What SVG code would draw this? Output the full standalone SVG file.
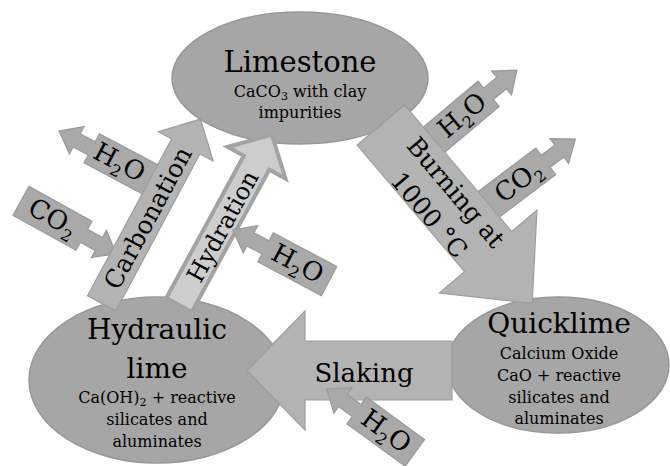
<svg xmlns="http://www.w3.org/2000/svg" width="670" height="466" viewBox="0 0 670 466">
<defs>
<style>
.node{fill:#a6a6a6;stroke:#979797;stroke-width:1.5}
.big{fill:#b3b3b3;stroke:#9d9d9d;stroke-width:1.2}
.hyd{fill:#cdcdcd;stroke:#a3a3a3;stroke-width:4;stroke-linejoin:miter}
.small{fill:#a9a9a9;stroke:#999999;stroke-width:1.2}
text{font-family:"DejaVu Serif","Liberation Serif",serif;fill:#000;text-anchor:middle}
.title{font-size:28px}
.sub{font-size:16px}
.lbl{font-size:25px}
.mol{font-size:26px}
.idx{font-size:16px}
</style>
<path id="smallL" d="M36,-16.5 L36,16.5 L-36,16.5 L-36,7.5 L-53,7.5 L-53,15.5 L-73,0 L-53,-15.5 L-53,-7.5 L-36,-7.5 L-36,-16.5 Z"/>
<path id="smallR" d="M-36,-16.5 L-36,16.5 L36,16.5 L36,7.5 L53,7.5 L53,15.5 L73,0 L53,-15.5 L53,-7.5 L36,-7.5 L36,-16.5 Z"/>
</defs>
<rect width="670" height="466" fill="#ffffff"/>

<g id="limestone">
<ellipse class="node" cx="300" cy="78" rx="128" ry="66"/>
<text class="title" x="300" y="72" style="font-size:29px">Limestone</text>
<text class="sub" x="300" y="97">CaCO<tspan style="font-size:11px" dy="3">3</tspan><tspan dy="-3"> with clay</tspan></text>
<text class="sub" x="300" y="117.5">impurities</text>
</g>

<g id="quicklime">
<ellipse class="node" cx="558" cy="365" rx="111" ry="68"/>
<text class="title" x="559" y="333">Quicklime</text>
<text class="sub" x="559" y="359">Calcium Oxide</text>
<text class="sub" x="559" y="381">CaO + reactive</text>
<text class="sub" x="559" y="402.5">silicates and</text>
<text class="sub" x="559" y="424">aluminates</text>
</g>

<g id="hydraulic-lime">
<ellipse class="node" cx="157" cy="380" rx="128" ry="83"/>
<text class="title" x="157" y="339">Hydraulic</text>
<text class="title" x="157" y="378">lime</text>
<text class="sub" x="157" y="403">Ca(OH)<tspan style="font-size:11px" dy="3">2</tspan><tspan dy="-3"> + reactive</tspan></text>
<text class="sub" x="157" y="425">silicates and</text>
<text class="sub" x="157" y="446.5">aluminates</text>
</g>

<g id="connectors">
<g id="carbonation-h2o" transform="translate(123.5,165.2) rotate(28)">
<use href="#smallL" class="small"/>
<text class="mol" x="-5" y="8">H<tspan class="idx" dy="6">2</tspan><tspan dy="-6">O</tspan></text>
</g>
<g id="carbonation-co2" transform="translate(52.5,218.3) rotate(29)">
<use href="#smallR" class="small"/>
<text class="mol" x="0" y="8">CO<tspan class="idx" dy="6">2</tspan></text>
</g>
<g id="burning-h2o" transform="translate(461,117) rotate(-40)">
<use href="#smallR" class="small"/>
<text class="mol" x="2" y="8">H<tspan class="idx" dy="6">2</tspan><tspan dy="-6">O</tspan></text>
</g>
<g id="burning-co2" transform="translate(517,183) rotate(-37)">
<use href="#smallR" class="small"/>
<text class="mol" x="2" y="8">CO<tspan class="idx" dy="6">2</tspan></text>
</g>

<g id="carbonation" transform="translate(101.7,303.3) rotate(-61.8)">
<path class="big" d="M0,-16 L178,-16 L178,-31 L209,0 L178,31 L178,16 L0,16 Z"/>
<text class="lbl" x="97" y="9">Carbonation</text>
</g>
<g id="hydration" transform="translate(179,305) rotate(-61.4)">
<path class="hyd" d="M0,-14.5 L162,-14.5 L162,-33 L194,0 L162,33 L162,14.5 L0,14.5 Z"/>
<text class="lbl" x="90" y="9" style="font-size:24px">Hydration</text>
</g>
<g id="burning" transform="translate(380.8,125) rotate(49.7)">
<path class="big" d="M0,-31 L166,-31 L166,-64 L234,0 L166,64 L166,31 L0,31 Z"/>
<text class="lbl" x="100" y="-5">Burning at</text>
<text class="lbl" x="100" y="30">1000 °C</text>
</g>
<g id="slaking">
<path class="big" d="M452,341 L305,341 L305,311 L247,370.5 L305,430 L305,400 L452,400 Z"/>
<text class="title" x="364" y="381.5" style="font-size:26px">Slaking</text>
</g>

<g id="hydration-h2o" transform="translate(297.3,264.2) rotate(28)">
<use href="#smallL" class="small"/>
<text class="mol" x="0" y="8">H<tspan class="idx" dy="6">2</tspan><tspan dy="-6">O</tspan></text>
</g>
<g id="slaking-h2o" transform="translate(385.8,431.7) rotate(36)">
<use href="#smallL" class="small"/>
<text class="mol" x="0" y="8">H<tspan class="idx" dy="6">2</tspan><tspan dy="-6">O</tspan></text>
</g>
</g>
</svg>
